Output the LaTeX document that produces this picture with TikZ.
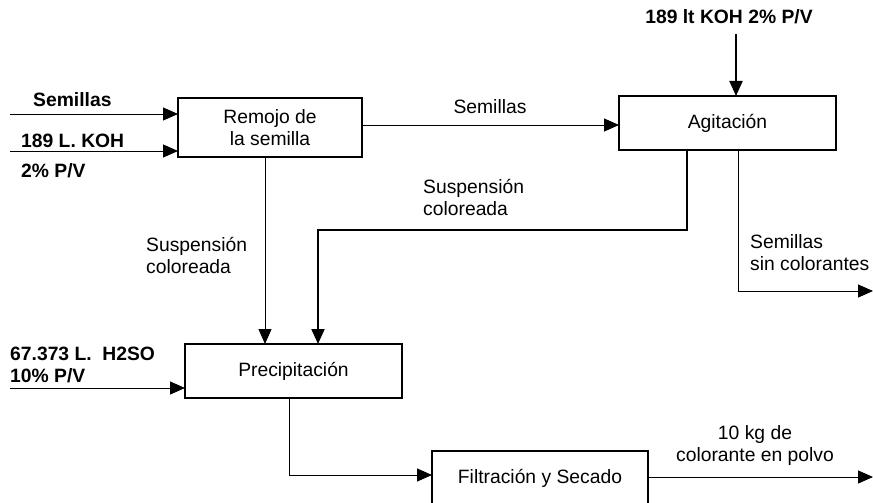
\documentclass[tikz,border=0pt]{standalone}
\usepackage{fontspec}
\setmainfont{Liberation Sans}
\usetikzlibrary{arrows.meta,calc}
\begin{document}
\begin{tikzpicture}[x=1pt,y=-1pt,
  every node/.style={font=\fontsize{19.3}{22}\selectfont, inner sep=0pt},
  procbox/.style={draw, line width=1.1pt, inner sep=0pt, outer sep=0pt},
  lbl/.style={align=left, anchor=west},
  blbl/.style={align=left, anchor=west, font=\fontsize{19.3}{22}\selectfont\bfseries},
  flow/.style={line width=1pt, -{Triangle[length=15pt,width=13pt]}},
  thickflow/.style={line width=2pt, -{Triangle[length=15pt,width=13pt]}}
]
\useasboundingbox (0,0) rectangle (873,503);

% process boxes
\node[procbox, minimum width=184pt, minimum height=59pt, align=center] (rem) at (270,127.5) {Remojo de\\la semilla};
\node[procbox, minimum width=217pt, minimum height=54pt] (agi) at (727.5,123) {Agitación};
\node[procbox, minimum width=217pt, minimum height=54pt] (pre) at (293.5,371) {Precipitación};
\node[procbox, minimum width=216pt, minimum height=54pt] (fil) at (540,478) {Filtración y Secado};

% free ends
\coordinate (in1) at (10,114);
\coordinate (in2) at (10,151);
\coordinate (in3) at (10,388);
\coordinate (top) at (736,34);
\coordinate (out1) at (873,291);
\coordinate (out2) at (873,477);

% labels
\node[blbl] (l1) at (33,100) {Semillas};
\node[blbl] (l2) at (21,141) {189 L. KOH};
\node[blbl] (l3) at (21,171) {2\% P/V};
\node[font=\fontsize{19.3}{22}\selectfont\bfseries] (l4) at (729,17) {189 lt KOH 2\% P/V};
\node (l5) at (490,107) {Semillas};
\node[lbl] (l6) at (423,197.5) {Suspensión\\coloreada};
\node[lbl] (l7) at (146,255) {Suspensión\\coloreada};
\node[lbl] (l8) at (750,252.5) {Semillas\\sin colorantes};
\node[blbl] (l9) at (10,365) {67.373 L.\ \ H2SO\\10\% P/V};
\node[align=center] (l10) at (755,446) {10 kg de\\colorante en polvo};

% connectors
\draw[flow] (in1) -- (in1 -| rem.west);
\draw[flow] (in2) -- (in2 -| rem.west);
\draw[flow] (rem.east |- 0,125) -- (agi.west |- 0,125);
\draw[thickflow] (top) -- (top |- agi.north);
\draw[flow] (agi.south -| 738,0) -- (738,291) -- (out1);
\draw[thickflow] (agi.south -| 687,0) -- (687,230) -- (318,230) -- (318,0 |- pre.north);
\draw[flow] (rem.south -| 265,0) -- (265,0 |- pre.north);
\draw[flow] (in3) -- (in3 -| pre.west);
\draw[flow] (pre.south -| 289,0) -- (289,475) -- (fil.west |- 0,475);
\draw[flow] (fil.east |- out2) -- (out2);
\end{tikzpicture}
\end{document}
